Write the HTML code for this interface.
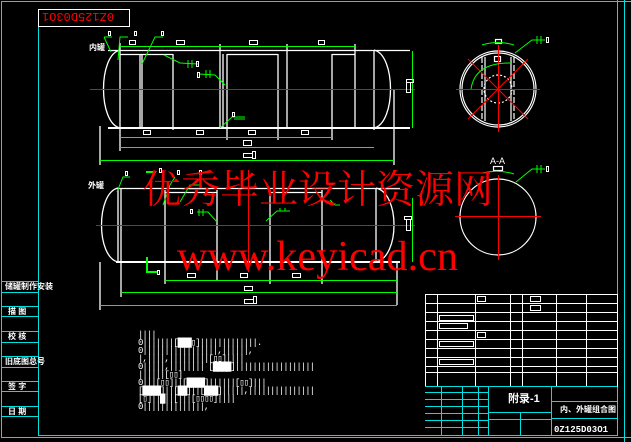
<!DOCTYPE html>
<html><head><meta charset="utf-8"><style>
html,body{margin:0;padding:0;background:#000;width:631px;height:442px;overflow:hidden}
svg{display:block}
</style></head><body>
<svg width="631" height="442" viewBox="0 0 631 442" xmlns="http://www.w3.org/2000/svg" font-family="Liberation Sans, Noto Sans CJK SC, sans-serif">
<!-- borders -->
<g fill="none" stroke="#00e0e0" stroke-width="1">
<rect x="1.5" y="1.5" width="640" height="436"/>
<polyline points="38.5,27 38.5,435.5 617.5,435.5 617.5,0"/>
<line x1="624.5" y1="0" x2="624.5" y2="442"/>
<line x1="2" y1="281.5" x2="38" y2="281.5"/><line x1="2" y1="292.5" x2="38" y2="292.5"/>
<line x1="2" y1="306.5" x2="38" y2="306.5"/><line x1="2" y1="316.5" x2="38" y2="316.5"/>
<line x1="2" y1="331.5" x2="38" y2="331.5"/><line x1="2" y1="342.5" x2="38" y2="342.5"/>
<line x1="2" y1="356.5" x2="38" y2="356.5"/><line x1="2" y1="367.5" x2="38" y2="367.5"/>
<line x1="2" y1="381.5" x2="38" y2="381.5"/><line x1="2" y1="391.5" x2="38" y2="391.5"/>
<line x1="2" y1="406.5" x2="38" y2="406.5"/><line x1="2" y1="416.5" x2="38" y2="416.5"/>
</g>
<g fill="#fff" font-size="8" font-weight="bold">
<text x="5" y="289">储罐制作安装</text><text x="8" y="314">描 图</text><text x="8" y="339">校 核</text>
<text x="5" y="364">旧底图总号</text><text x="8" y="389">签 字</text><text x="8" y="414">日 期</text>
</g>
<rect x="38.5" y="9.5" width="91" height="17" fill="none" stroke="#fff"/>
<text x="54" y="23" fill="#f00" font-size="12" transform="rotate(180 84 18)" font-family="Liberation Mono, monospace">0Z125D03O1</text>

<!-- upper vessel -->
<g fill="none" stroke="#fff" stroke-width="1.3">
<path d="M120,50 C98,55 98,123 120,128"/>
<path d="M374,50 C396,55 396,123 374,128"/>
<line x1="108" y1="50.5" x2="410" y2="50.5"/>
<line x1="108" y1="128" x2="410" y2="128" stroke-width="2"/>
<line x1="120" y1="43" x2="120" y2="151"/><line x1="374" y1="50" x2="374" y2="130"/>
<line x1="140" y1="54" x2="140" y2="128"/><line x1="142" y1="54" x2="142" y2="128"/>
<line x1="173" y1="54" x2="173" y2="130"/><line x1="220" y1="44" x2="220" y2="128"/><line x1="223" y1="54" x2="223" y2="128"/>
<line x1="227" y1="54" x2="227" y2="140"/><line x1="278" y1="54" x2="278" y2="140"/><line x1="287" y1="44" x2="287" y2="128"/>
<line x1="332" y1="54" x2="332" y2="140"/><line x1="355" y1="44" x2="355" y2="128"/>
<line x1="120" y1="54.5" x2="173" y2="54.5"/><line x1="227" y1="54.5" x2="278" y2="54.5"/><line x1="332" y1="54.5" x2="355" y2="54.5"/>
<line x1="100" y1="126" x2="100" y2="165"/><line x1="394" y1="90" x2="394" y2="165"/>
</g>
<line x1="90" y1="89.5" x2="415" y2="89.5" stroke="#f00"/>
<g stroke="#0f0" fill="none">
<line x1="120" y1="46.5" x2="355" y2="46.5"/><line x1="120" y1="137.5" x2="332" y2="137.5"/>
<line x1="120" y1="147.5" x2="374" y2="147.5"/><line x1="100" y1="160.5" x2="394" y2="160.5"/>
<line x1="412.5" y1="51" x2="412.5" y2="128"/>
<polyline points="104,37 111,52"/><line x1="104" y1="37" x2="112" y2="37"/>
<polyline points="118,60 120,37 128,37"/><polyline points="142,64 155,37 163,37"/>
<polyline points="164,55 180,63 198,64"/><line x1="188" y1="60" x2="188" y2="68"/><line x1="192" y1="60" x2="192" y2="68"/>
<polyline points="199,74 215,75 225,85"/><line x1="206" y1="70" x2="206" y2="78"/><line x1="210" y1="70" x2="210" y2="78"/>
<polyline points="220,128 232,117 245,117"/><line x1="234" y1="119" x2="245" y2="119"/>
</g>
<g fill="none" stroke="#fff">
<rect x="108.5" y="31.5" width="2" height="4"/><rect x="134.5" y="31.5" width="2" height="4"/><rect x="161.5" y="31.5" width="2" height="4"/>
<rect x="129.5" y="40.5" width="6" height="4"/><rect x="176.5" y="40.5" width="8" height="4"/><rect x="249.5" y="40.5" width="8" height="4"/><rect x="318.5" y="40.5" width="6" height="4"/>
<rect x="143.5" y="130.5" width="7" height="4"/><rect x="196.5" y="130.5" width="7" height="4"/><rect x="248.5" y="130.5" width="7" height="4"/><rect x="301.5" y="130.5" width="7" height="4"/>
<rect x="243.5" y="140.5" width="8" height="5"/><rect x="243.5" y="153.5" width="9" height="4"/><rect x="252.5" y="151.5" width="3" height="7"/>
<rect x="196.5" y="61.5" width="2" height="5"/><rect x="197.5" y="72.5" width="2" height="5"/><rect x="232.5" y="112.5" width="2" height="4"/>
<rect x="406.5" y="79.5" width="7" height="3"/><rect x="406.5" y="82.5" width="4" height="10"/>
</g>
<text x="89" y="50" fill="#fff" font-size="8" font-weight="bold">内罐</text>

<!-- lower vessel -->
<g fill="none" stroke="#fff" stroke-width="1.3">
<path d="M118,188 C96,193 96,257 118,262"/>
<path d="M376,188 C400,193 400,257 376,262"/>
<line x1="116" y1="188.5" x2="400" y2="188.5"/>
<line x1="116" y1="262" x2="400" y2="262" stroke-width="2"/>
<line x1="118" y1="188" x2="118" y2="262"/><line x1="121" y1="188" x2="121" y2="297"/>
<line x1="165" y1="190" x2="165" y2="284"/><line x1="217" y1="190" x2="217" y2="280"/>
<line x1="270" y1="190" x2="270" y2="284"/><line x1="322" y1="190" x2="322" y2="284"/><line x1="376" y1="188" x2="376" y2="262"/>
<line x1="165" y1="192.5" x2="217" y2="192.5"/><line x1="270" y1="192.5" x2="322" y2="192.5"/>
<line x1="100" y1="262" x2="100" y2="310"/><line x1="397" y1="262" x2="397" y2="305"/>
</g>
<line x1="96" y1="225.5" x2="415" y2="225.5" stroke="#f00"/>
<line x1="248.5" y1="170" x2="248.5" y2="272" stroke="#f00"/>
<g stroke="#0f0" fill="none">
<line x1="165" y1="280.5" x2="397" y2="280.5"/><line x1="121" y1="292.5" x2="397" y2="292.5"/><line x1="100" y1="305.5" x2="397" y2="305.5"/>
<line x1="412.5" y1="198" x2="412.5" y2="262"/>
<polyline points="117,192 123,177 130,177"/>
<polyline points="147,171 147,172 156,172" stroke-width="2"/>
<polyline points="147,257 147,272 157,272" stroke-width="2"/>
<polyline points="163,205 170,185 175,177"/><polyline points="180,202 190,185 200,185"/>
<polyline points="197,212 208,212 217,222"/><line x1="199" y1="209" x2="199" y2="216"/><line x1="203" y1="209" x2="203" y2="216"/>
<polyline points="266,221 277,211 290,211"/><line x1="280" y1="208" x2="280" y2="211"/><line x1="285" y1="208" x2="285" y2="211"/>
<polyline points="330,200 335,205 340,205"/>
</g>
<g fill="none" stroke="#fff">
<rect x="125.5" y="171.5" width="2" height="4"/><rect x="159.5" y="168.5" width="2" height="4"/><rect x="177.5" y="170.5" width="2" height="4"/><rect x="199.5" y="170.5" width="2" height="4"/>
<rect x="157.5" y="270.5" width="2" height="4"/><rect x="190.5" y="209.5" width="2" height="4"/>
<rect x="187.5" y="273.5" width="8" height="4"/><rect x="240.5" y="273.5" width="7" height="4"/><rect x="292.5" y="273.5" width="8" height="4"/>
<rect x="244.5" y="286.5" width="8" height="4"/><rect x="244.5" y="299.5" width="9" height="4"/><rect x="253.5" y="296.5" width="3" height="7"/>
<rect x="404.5" y="216.5" width="7" height="3"/><rect x="406.5" y="219.5" width="4" height="11"/>
</g>
<text x="88" y="188" fill="#fff" font-size="8" font-weight="bold">外罐</text>

<!-- circles -->
<g fill="none" stroke="#fff" stroke-width="1.2">
<circle cx="498" cy="89" r="38"/><circle cx="498" cy="89" r="36"/>
<circle cx="498" cy="89" r="14" stroke-dasharray="2 2"/>
<line x1="482" y1="57" x2="482" y2="121" stroke-dasharray="6 2"/><line x1="485" y1="57" x2="485" y2="121"/>
<line x1="511" y1="57" x2="511" y2="121"/><line x1="514" y1="57" x2="514" y2="121" stroke-dasharray="6 2"/>
<rect x="494.5" y="56.5" width="6" height="5"/><rect x="495.5" y="39.5" width="6" height="4"/>
<circle cx="498" cy="217" r="38"/>
<rect x="493.5" y="166.5" width="9" height="4"/>
</g>
<g stroke="#f00">
<line x1="456" y1="89.5" x2="540" y2="89.5"/><line x1="498.5" y1="45" x2="498.5" y2="132"/>
<line x1="468" y1="59" x2="528" y2="119"/><line x1="528" y1="59" x2="468" y2="119"/>
<line x1="455" y1="216.5" x2="541" y2="216.5"/><line x1="498.5" y1="175" x2="498.5" y2="260"/>
</g>
<g stroke="#0f0" fill="none">
<path d="M482,45 Q498,40 514,45"/><path d="M471,89 Q475,62 512,63"/>
<polyline points="515,53 532,40 545,40"/><line x1="537" y1="36" x2="537" y2="44"/><line x1="541" y1="36" x2="541" y2="44"/>
<path d="M482,173 Q498,169 514,174"/><polyline points="516,182 532,169 545,169"/><line x1="537" y1="165" x2="537" y2="173"/><line x1="541" y1="165" x2="541" y2="173"/>
</g>
<rect x="546.5" y="37.5" width="2" height="5" fill="none" stroke="#fff"/><rect x="546.5" y="166.5" width="2" height="5" fill="none" stroke="#fff"/>
<text x="490" y="164" fill="#fff" font-size="9">A-A</text>

<!-- notes -->
<g fill="#fff" font-size="9" font-family="Liberation Mono, monospace" letter-spacing="-1">
<text x="138" y="337">||||</text>
<text x="138" y="345">0|||||||[███▯]|||||||||||||.</text>
<text x="138" y="353">0|||||||||||||||||,||||||,</text>
<text x="138" y="361">|,||||,|||||||||[▯▯]||||</text>
<text x="138" y="369">0|||||,|||||||| [████]||||||||||||||||||</text>
<text x="138" y="377">||||||[▯▯]</text>
<text x="138" y="385">0|||[▯▯]||[████]||||||[▯▯]|||</text>
<text x="138" y="393">[████]||[██]||[███]|||||,|||||||||||||||</text>
<text x="138" y="401">[▯]||█||[|||[▯▯▯▯]||||</text>
<text x="138" y="409">0||||||||||||||,</text>
</g>

<!-- title block -->
<g fill="none" stroke="#fff">
<rect x="425.5" y="294.5" width="192" height="92"/>
<line x1="437.5" y1="294" x2="437.5" y2="386"/><line x1="475.5" y1="294" x2="475.5" y2="386"/>
<line x1="510.5" y1="294" x2="510.5" y2="386"/><line x1="522.5" y1="294" x2="522.5" y2="386"/>
<line x1="556.5" y1="294" x2="556.5" y2="386"/><line x1="586.5" y1="294" x2="586.5" y2="386"/>
<line x1="425" y1="303.5" x2="617" y2="303.5"/><line x1="425" y1="312.5" x2="617" y2="312.5"/><line x1="425" y1="321.5" x2="617" y2="321.5"/>
<line x1="425" y1="330.5" x2="617" y2="330.5"/><line x1="425" y1="339.5" x2="617" y2="339.5"/><line x1="425" y1="348.5" x2="617" y2="348.5"/>
<line x1="425" y1="357.5" x2="617" y2="357.5"/><line x1="425" y1="366.5" x2="617" y2="366.5"/><line x1="425" y1="372.5" x2="617" y2="372.5"/>
<rect x="439.5" y="315.5" width="34" height="5"/><rect x="439.5" y="323.5" width="28" height="5"/><rect x="439.5" y="341.5" width="34" height="5"/><rect x="439.5" y="359.5" width="34" height="5"/>
<rect x="477.5" y="296.5" width="8" height="5"/><rect x="477.5" y="332.5" width="8" height="5"/><rect x="530.5" y="296.5" width="10" height="5"/><rect x="530.5" y="305.5" width="10" height="5"/>
</g>
<g fill="none" stroke="#00e0e0">
<line x1="425" y1="386.5" x2="617" y2="386.5"/>
<line x1="488.5" y1="386" x2="488.5" y2="436"/><line x1="551.5" y1="386" x2="551.5" y2="436"/>
<line x1="551" y1="401.5" x2="617" y2="401.5"/><line x1="551" y1="418.5" x2="617" y2="418.5"/>
<line x1="488" y1="412.5" x2="551" y2="412.5"/><line x1="488" y1="419.5" x2="551" y2="419.5"/>
<line x1="520.5" y1="412" x2="520.5" y2="436"/>
<line x1="425" y1="392.5" x2="488" y2="392.5"/><line x1="425" y1="399.5" x2="488" y2="399.5"/><line x1="425" y1="406.5" x2="488" y2="406.5"/>
<line x1="425" y1="413.5" x2="488" y2="413.5"/><line x1="425" y1="420.5" x2="488" y2="420.5"/><line x1="425" y1="427.5" x2="488" y2="427.5"/>
<line x1="441.5" y1="386" x2="441.5" y2="436"/><line x1="462.5" y1="386" x2="462.5" y2="436"/><line x1="478.5" y1="386" x2="478.5" y2="436"/>
</g>
<g fill="#fff" font-weight="bold">
<text x="508" y="402" font-size="11">附录-1</text>
<text x="560" y="412" font-size="8">内、外罐组合图</text>
<text x="554" y="432" font-size="9" font-family="Liberation Mono, monospace">0Z125D03O1</text>
</g>

<!-- watermark -->
<g fill="#f00" font-family="Liberation Serif, Noto Serif CJK SC, serif">
<text x="142" y="203" font-size="39" textLength="351" lengthAdjust="spacingAndGlyphs" font-family="Noto Serif CJK SC, serif">优秀毕业设计资源网</text>
<text x="177" y="270" font-size="42" textLength="281" lengthAdjust="spacingAndGlyphs">www.keyicad.cn</text>
</g>
</svg>
</body></html>
